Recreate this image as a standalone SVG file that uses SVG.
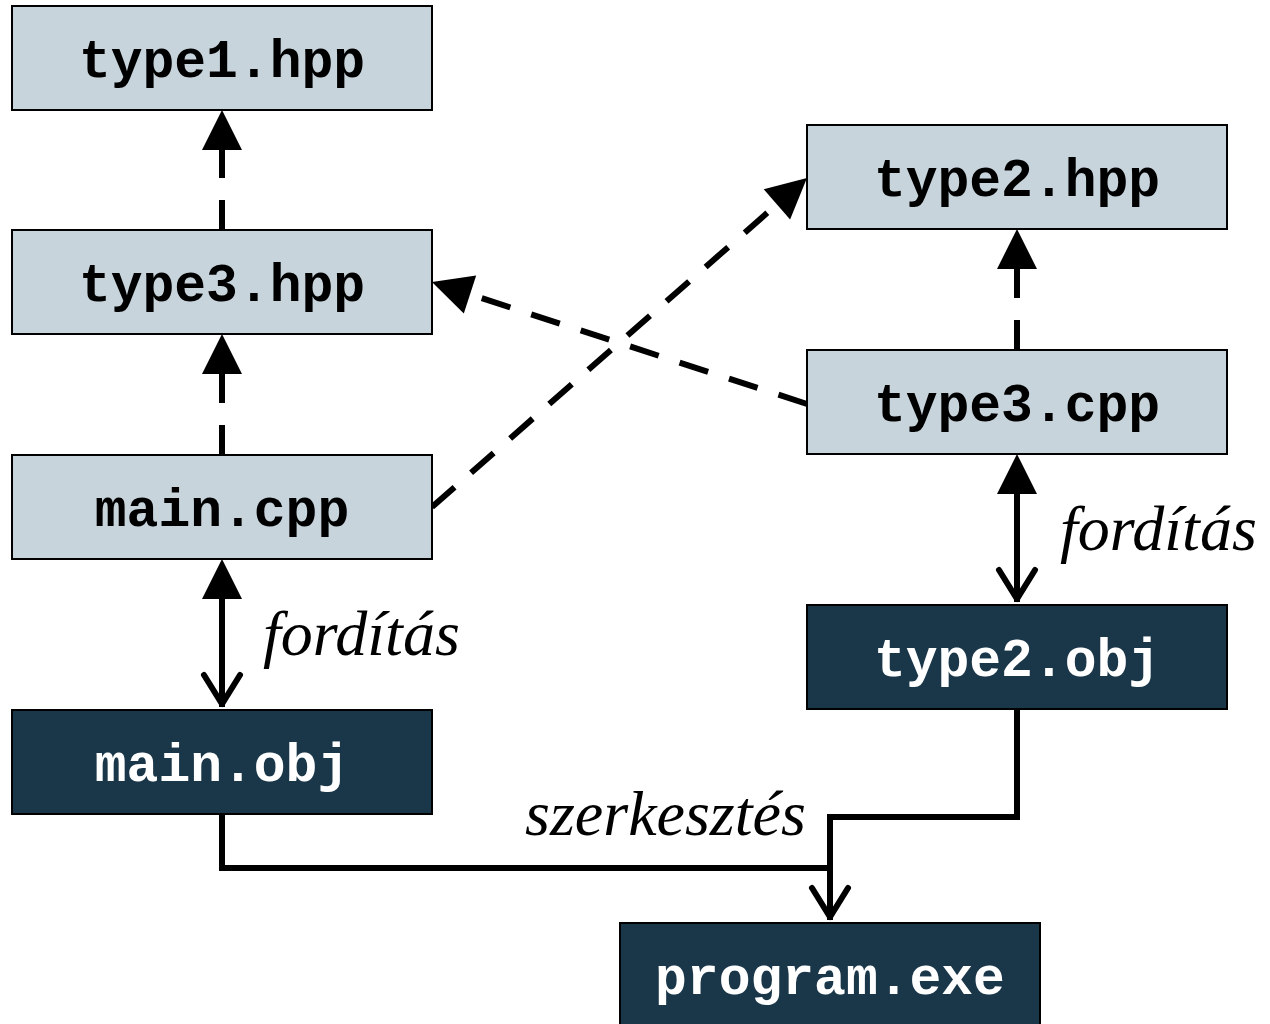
<svg xmlns="http://www.w3.org/2000/svg" width="1270" height="1024" viewBox="0 0 1270 1024">
<style>
.box{stroke:#000;stroke-width:2}
.src{fill:#c8d4dc}
.bin{fill:#1a3649}
.t{font-family:"Liberation Mono","Courier New",monospace;font-weight:bold;font-size:53px;text-anchor:middle}
.ts{fill:#000}
.tb{fill:#fff}
.lbl{font-family:"Liberation Serif","Times New Roman",serif;font-style:italic;font-size:64px;fill:#000}
.c{fill:none;stroke:#000;stroke-width:6}
.d{stroke-dasharray:30 22}
</style>
<defs>
<marker id="tri" markerUnits="userSpaceOnUse" markerWidth="44" markerHeight="44" viewBox="0 -22 44 44" refX="0" refY="0" orient="auto" overflow="visible">
<path d="M0,-20 L40,0 L0,20 Z" fill="#000" stroke="none"/>
</marker>
<marker id="chev" markerUnits="userSpaceOnUse" markerWidth="50" markerHeight="50" viewBox="-45 -25 50 50" refX="0" refY="0" orient="auto" overflow="visible">
<path d="M-32,-18 L-3,0 L-32,18" fill="none" stroke="#000" stroke-width="6" stroke-linecap="round" stroke-linejoin="round"/>
</marker>
</defs>
<g id="connectors">
<line class="c d" x1="222" y1="230" x2="222" y2="150" marker-end="url(#tri)"/>
<line class="c d" x1="222" y1="455" x2="222" y2="374" marker-end="url(#tri)"/>
<line class="c d" x1="1017" y1="350" x2="1017" y2="269" marker-end="url(#tri)"/>
<line class="c d" x1="807" y1="404" x2="470" y2="294.4" marker-end="url(#tri)"/>
<line class="c d" x1="432" y1="507" x2="776.9" y2="204.4" marker-end="url(#tri)"/>
<line class="c" x1="222" y1="599" x2="222" y2="707" marker-end="url(#chev)"/>
<path class="c" d="M222,707 L222,599" marker-end="url(#tri)"/>
<line class="c" x1="1017" y1="494" x2="1017" y2="602" marker-end="url(#chev)"/>
<path class="c" d="M1017,602 L1017,494" marker-end="url(#tri)"/>
<path class="c" d="M222,814 L222,868 L830,868 L830,920" marker-end="url(#chev)"/>
<path class="c" d="M1017,709 L1017,817 L830,817 L830,868"/>
</g>
<g id="type1-hpp"><rect class="box src" x="12" y="6" width="420" height="104"/><text class="t ts" x="222" y="77">type1.hpp</text></g>
<g id="type3-hpp"><rect class="box src" x="12" y="230" width="420" height="104"/><text class="t ts" x="222" y="301">type3.hpp</text></g>
<g id="main-cpp"><rect class="box src" x="12" y="455" width="420" height="104"/><text class="t ts" x="222" y="526">main.cpp</text></g>
<g id="main-obj"><rect class="box bin" x="12" y="710" width="420" height="104"/><text class="t tb" x="222" y="781">main.obj</text></g>
<g id="type2-hpp"><rect class="box src" x="807" y="125" width="420" height="104"/><text class="t ts" x="1017" y="196">type2.hpp</text></g>
<g id="type3-cpp"><rect class="box src" x="807" y="350" width="420" height="104"/><text class="t ts" x="1017" y="421">type3.cpp</text></g>
<g id="type2-obj"><rect class="box bin" x="807" y="605" width="420" height="104"/><text class="t tb" x="1017" y="676">type2.obj</text></g>
<g id="program-exe"><rect class="box bin" x="620" y="923" width="420" height="110"/><text class="t tb" x="830" y="994">program.exe</text></g>
<g id="labels">
<text class="lbl" x="263" y="655">fordítás</text>
<text class="lbl" x="1060" y="550">fordítás</text>
<text class="lbl" x="525" y="835">szerkesztés</text>
</g>
</svg>
